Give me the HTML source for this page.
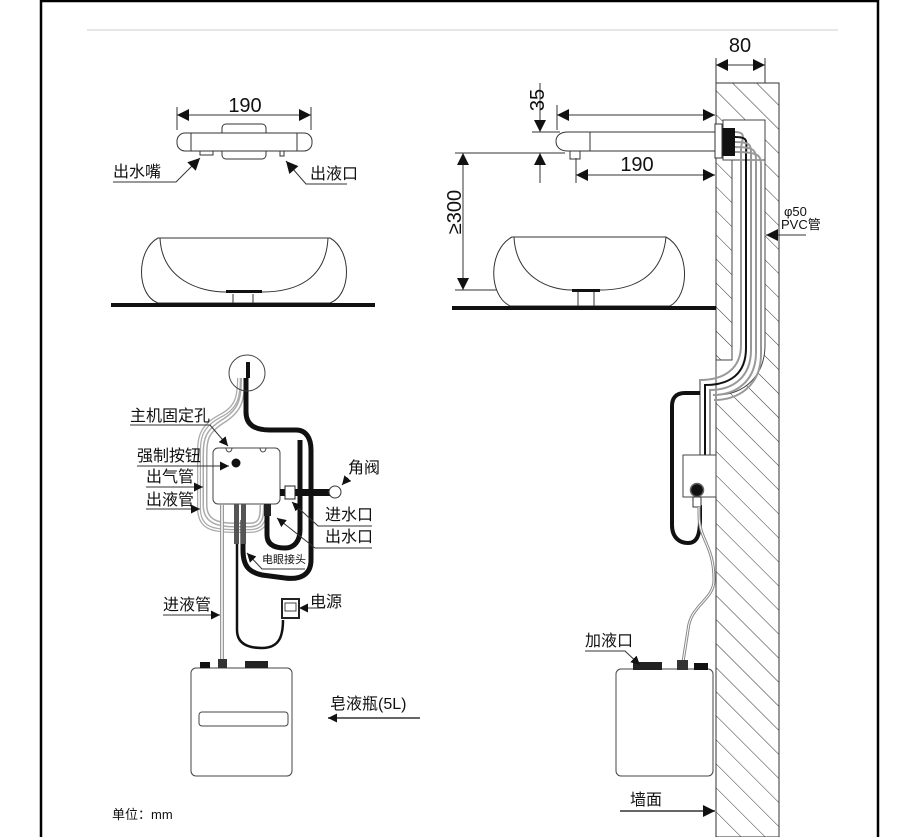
<!DOCTYPE html>
<html><head><meta charset="utf-8"><style>
html,body{margin:0;padding:0;background:#fff;}
svg{display:block;}
text{font-family:"Liberation Sans","Noto Sans CJK SC",sans-serif;fill:#111;}
.cn{font-size:16px;}
.num{font-size:20px;}
</style></head><body>
<svg width="921" height="837" viewBox="0 0 921 837" xmlns="http://www.w3.org/2000/svg">
<defs>
<marker id="a" viewBox="0 0 10 10" refX="10" refY="5" markerWidth="9" markerHeight="9" markerUnits="userSpaceOnUse" orient="auto-start-reverse"><path d="M0,0 L10,5 L0,10 z" fill="#111"/></marker>
<marker id="b" viewBox="0 0 10 10" refX="10" refY="5" markerWidth="14" markerHeight="12" markerUnits="userSpaceOnUse" orient="auto-start-reverse"><path d="M0,0 L10,5 L0,10 z" fill="#111"/></marker>
<pattern id="h" width="17" height="17" patternUnits="userSpaceOnUse" patternTransform="rotate(-45)"><line x1="0" y1="0" x2="0" y2="17" stroke="#333" stroke-width="1"/></pattern>
</defs>
<!-- frame -->
<line x1="41" y1="0" x2="41" y2="837" stroke="#000" stroke-width="2.5"/>
<line x1="878" y1="0" x2="878" y2="837" stroke="#000" stroke-width="2.5"/>
<line x1="41" y1="1" x2="878" y2="1" stroke="#000" stroke-width="2.5"/>
<line x1="87" y1="30" x2="838" y2="30" stroke="#ddd" stroke-width="1.5"/>

<g fill="none" stroke="#333" stroke-width="1">
<line x1="177" y1="107" x2="177" y2="130"/><line x1="311" y1="107" x2="311" y2="130"/>
<line x1="177" y1="115" x2="311" y2="115" marker-start="url(#b)" marker-end="url(#b)"/>
<rect x="222" y="124" width="44" height="35" rx="4" fill="#fff"/>
<rect x="177" y="133" width="135" height="18" rx="8" fill="#fff"/>
<line x1="191" y1="133" x2="191" y2="151"/><line x1="297" y1="133" x2="297" y2="151"/>
<rect x="200" y="151" width="13" height="4"/><rect x="280" y="151" width="4" height="5"/>
<polyline points="113,182 176,182 200,158" marker-end="url(#b)"/>
<polyline points="347,184 306,184 286,161" marker-end="url(#b)"/>
<path d="M158,238 L330,238 C352,250 352,295 330,303 L158,303 C136,295 136,250 158,238 Z" fill="#fff"/>
<path d="M160,238 C162,280 200,292 226,292 L262,292 C295,292 326,280 328,238"/>
<line x1="233" y1="294" x2="233" y2="303"/><line x1="253" y1="294" x2="253" y2="303"/>
</g>
<rect x="226" y="290" width="36" height="3" fill="#111"/>
<rect x="111" y="303" width="264" height="4" fill="#111"/>
<text x="245" y="112" class="num" text-anchor="middle">190</text>
<text x="113" y="177" class="cn">出水嘴</text>
<text x="310" y="179" class="cn">出液口</text>

<!-- wall -->
<rect x="716" y="83" width="63" height="754" fill="url(#h)" stroke="#333"/>
<path d="M732,120 L765,120 L765,345 C765,375 745,395 716,395 L716,360 L732,360 Z" fill="#fff" stroke="#444"/>
<rect x="723" y="120" width="42" height="40" fill="#fff" stroke="#444"/>
<g fill="none" stroke-width="2">
<path d="M735,132 C748,132 741,140 741,150 L741,345 C741,368 725,380 700,380 L700,455" stroke="#999"/>
<path d="M735,137 C750,137 746,142 746,155 L746,348 C746,374 730,385 705,385 L705,455" stroke="#111"/>
<path d="M735,142 C752,142 751,145 751,158 L751,350 C751,378 732,390 710,390 L710,455" stroke="#999"/>
<path d="M735,147 C755,147 756,150 756,162 L756,352 C756,382 735,395 713,395" stroke="#999"/>
<path d="M735,152 C758,152 761,155 761,165 L761,354 C761,386 738,400 714,400" stroke="#999"/>
</g>
<rect x="722" y="128" width="13" height="28" fill="#111"/>
<rect x="715" y="124" width="7" height="34" fill="#fff" stroke="#333"/>
<g fill="none" stroke="#333" stroke-width="1">
<path d="M568,132 L715,132 L715,151 L568,151 C560,151 556,147 556,141 C556,136 560,132 568,132 Z" fill="#fff"/>
<line x1="590" y1="132" x2="590" y2="151"/>
<rect x="570" y="151" width="10" height="8"/>
<line x1="557" y1="105" x2="557" y2="130"/>
<line x1="557" y1="115" x2="715" y2="115" marker-start="url(#b)" marker-end="url(#b)"/>
<line x1="576" y1="158" x2="576" y2="183"/>
<line x1="576" y1="175" x2="715" y2="175" marker-start="url(#b)" marker-end="url(#b)"/>
<line x1="540" y1="83" x2="540" y2="132" marker-end="url(#b)"/>
<line x1="540" y1="183" x2="540" y2="153" marker-end="url(#b)"/>
<line x1="532" y1="132" x2="560" y2="132"/>
<line x1="455" y1="153" x2="565" y2="153"/>
<line x1="463" y1="153" x2="463" y2="290" marker-start="url(#b)" marker-end="url(#b)"/>
<line x1="455" y1="290" x2="500" y2="290"/>
<line x1="716" y1="58" x2="716" y2="83"/><line x1="765" y1="58" x2="765" y2="83"/>
<line x1="716" y1="65" x2="765" y2="65" marker-start="url(#b)" marker-end="url(#b)"/>
<line x1="806" y1="235" x2="766" y2="235" marker-end="url(#b)"/>
<path d="M512,237 L666,237 C690,250 690,295 670,306 L510,306 C488,295 488,250 512,237 Z" fill="#fff"/>
<path d="M514,237 C516,278 550,290 572,290 L600,290 C632,290 662,278 666,237"/>
<line x1="578" y1="292" x2="578" y2="306"/><line x1="594" y1="292" x2="594" y2="306"/>
</g>
<rect x="572" y="289" width="28" height="3" fill="#111"/>
<rect x="452" y="306" width="264" height="4" fill="#111"/>
<text x="740" y="52" class="num" text-anchor="middle">80</text>
<text x="637" y="171" class="num" text-anchor="middle">190</text>
<text transform="translate(544,100) rotate(-90)" class="num" text-anchor="middle">35</text>
<text transform="translate(461,212) rotate(-90)" class="num" text-anchor="middle">≥300</text>
<text x="784" y="216" font-size="13">φ50</text>
<text x="781" y="229" font-size="13">PVC管</text>

<path d="M700,393 L685,393 C676,393 672,398 672,406 L672,525 C672,538 680,543 688,543 C697,543 700,535 700,520 L700,505" fill="none" stroke="#111" stroke-width="4"/>
<rect x="683" y="455" width="33" height="42" fill="#fff" stroke="#444"/>
<circle cx="697" cy="490" r="6.5" fill="#111" stroke="#666" stroke-width="1.5"/>
<rect x="693" y="497" width="8" height="10" fill="#fff" stroke="#333"/>
<path d="M699,507 L699,515 C699,540 714,545 714,580 C714,600 690,605 688,630 L683,662" fill="none" stroke="#888" stroke-width="3"/>
<path d="M699,507 L699,515 C699,540 714,545 714,580 C714,600 690,605 688,630 L683,662" fill="none" stroke="#fff" stroke-width="1"/>
<rect x="616" y="669" width="97" height="107" rx="5" fill="#fff" stroke="#444"/>
<rect x="633" y="662" width="29" height="8" fill="#222"/>
<rect x="677" y="660" width="11" height="10" fill="#333"/>
<rect x="694" y="663" width="14" height="7" fill="#111"/>
<text x="585" y="646" class="cn">加液口</text>
<polyline points="585,651 625,651 640,665" fill="none" stroke="#333" marker-end="url(#a)"/>
<text x="630" y="805" class="cn">墙面</text>
<line x1="620" y1="811" x2="715" y2="811" stroke="#333" stroke-width="1.5" marker-end="url(#b)"/>

<g fill="none">
<path d="M243,378 C243,400 240,410 225,420 C205,432 205,440 205,460 L205,505 C205,520 215,525 235,525 L250,525 C262,525 262,515 262,505" stroke="#aaa" stroke-width="5"/>
<path d="M243,378 C243,400 240,410 225,420 C205,432 205,440 205,460 L205,505 C205,520 215,525 235,525 L250,525 C262,525 262,515 262,505" stroke="#fff" stroke-width="2"/>
<path d="M239,378 C239,398 236,408 220,416 C198,428 199,440 199,460 L199,508 C199,528 212,531 235,531 L250,531 C268,531 268,515 268,505" stroke="#aaa" stroke-width="4"/>
<path d="M239,378 C239,398 236,408 220,416 C198,428 199,440 199,460 L199,508 C199,528 212,531 235,531 L250,531 C268,531 268,515 268,505" stroke="#fff" stroke-width="1.5"/>
<path d="M246,378 L246,412 C246,425 255,430 270,430 L296,430 C306,430 311,438 311,450 L311,560 C311,575 300,580 285,578 L262,575 C248,572 243,565 243,550 L243,520" stroke="#111" stroke-width="5"/>
<path d="M267,510 L267,535 C267,545 275,548 285,548 C295,548 300,540 300,530 L300,440" stroke="#111" stroke-width="5"/>
<path d="M237,520 L237,630 C237,645 250,648 262,648 C280,648 283,635 283,620" stroke="#111" stroke-width="2.5"/>
<path d="M222,505 L222,662" stroke="#999" stroke-width="4"/>
<path d="M222,505 L222,662" stroke="#fff" stroke-width="1.5"/>
</g>
<circle cx="247" cy="373" r="18" fill="none" stroke="#444"/>
<rect x="246" y="362" width="4" height="16" fill="#111"/>
<rect x="213" y="448" width="67" height="56" rx="5" fill="#fff" stroke="#444"/>
<path d="M226,448 a3,4 0 0,0 6,0 M260,448 a3,4 0 0,0 6,0" fill="none" stroke="#444"/>
<circle cx="236" cy="463" r="4.5" fill="#111"/>
<rect x="280" y="489" width="50" height="7" fill="#111"/>
<rect x="285" y="486" width="10" height="13" fill="#fff" stroke="#222"/>
<circle cx="335" cy="492" r="6" fill="#fff" stroke="#333"/>
<rect x="264" y="504" width="7" height="12" fill="#222"/>
<rect x="234" y="504" width="5" height="40" fill="#555"/>
<rect x="241" y="504" width="5" height="40" fill="#555"/>
<rect x="282" y="599" width="17" height="19" fill="#fff" stroke="#222" stroke-width="2"/>
<rect x="285" y="603" width="11" height="8" fill="none" stroke="#444"/>

<text x="130" y="421" class="cn">主机固定孔</text>
<polyline points="130,425 210,425 228,446" fill="none" stroke="#333" marker-end="url(#a)"/>
<text x="137" y="461" class="cn">强制按钮</text>
<polyline points="137,466 229,466" fill="none" stroke="#333" marker-end="url(#a)"/>
<text x="146" y="482" class="cn">出气管</text>
<polyline points="146,487 203,487" fill="none" stroke="#333" marker-end="url(#a)"/>
<text x="146" y="505" class="cn">出液管</text>
<polyline points="146,509 200,509" fill="none" stroke="#333" marker-end="url(#a)"/>
<text x="348" y="473" class="cn">角阀</text>
<polyline points="348,478 342,485" fill="none" stroke="#333" marker-end="url(#a)"/>
<text x="325" y="520" class="cn">进水口</text>
<polyline points="372,526 318,526 292,502" fill="none" stroke="#333" marker-end="url(#a)"/>
<text x="325" y="542" class="cn">出水口</text>
<polyline points="372,548 315,548 277,518" fill="none" stroke="#333" marker-end="url(#a)"/>
<text x="262" y="563" font-size="11">电眼接头</text>
<polyline points="305,569 262,569 247,553" fill="none" stroke="#333" marker-end="url(#a)"/>
<text x="163" y="610" class="cn">进液管</text>
<polyline points="163,615 220,615" fill="none" stroke="#333" marker-end="url(#a)"/>
<text x="310" y="607" class="cn">电源</text>
<polyline points="325,608 299,608" fill="none" stroke="#333" marker-end="url(#a)"/>

<rect x="191" y="668" width="101" height="108" rx="5" fill="#fff" stroke="#444"/>
<rect x="199" y="712" width="89" height="14" rx="3" fill="none" stroke="#444"/>
<rect x="200" y="662" width="10" height="6" fill="#111"/>
<rect x="218" y="659" width="9" height="9" fill="#333"/>
<rect x="245" y="661" width="23" height="7" fill="#222"/>
<text x="330" y="709" class="cn">皂液瓶(5L)</text>
<line x1="420" y1="718" x2="328" y2="718" stroke="#333" stroke-width="1.5" marker-end="url(#a)"/>
<text x="112" y="819" font-size="13">单位：mm</text>
</svg>
</body></html>
